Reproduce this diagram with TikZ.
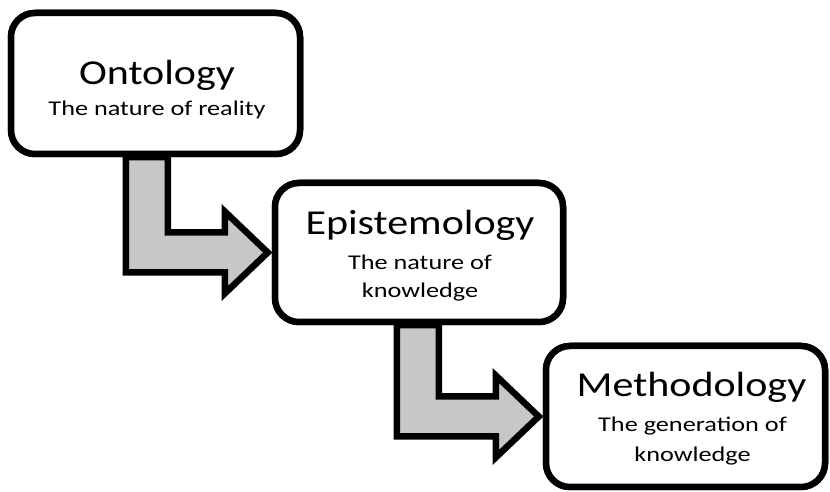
\documentclass[tikz,border=0pt]{standalone}
\usepackage{fontspec}
\setmainfont{Carlito}
\usetikzlibrary{calc}

\tikzset{
  stage/.style={draw=black, line width=6.5pt, rounded corners=24pt, fill=white,
    inner sep=0pt},
  stageline/.style={anchor=base, inner sep=0pt, text=black},
  bentarrow/.style={draw=black, line width=6.5pt, fill=black!22, line join=miter,
    miter limit=10},
}
% the lettering is set slightly wide
\newcommand{\titletext}[1]{\scalebox{1.2}[1]{\fontsize{35}{40}\selectfont #1}}
\newcommand{\subtext}[1]{\scalebox{1.25}[1]{\fontsize{21}{25}\selectfont #1}}

% L-shaped block arrow from the bottom of #1 to the left side of #2
\newcommand{\lbentarrow}[2]{%
  \draw[bentarrow] let \p1=(#1.south), \p2=($(#2.west)+(-4,0)$) in
    (\x2-142, \y1) -- (\x2-142, \y2-20) -- (\x2-43, \y2-20) -- (\x2-43, \y2-41)
    -- (\x2, \y2) -- (\x2-43, \y2+41) -- (\x2-43, \y2+20) -- (\x2-100, \y2+20)
    -- (\x2-100, \y1) -- cycle;}

\begin{document}
\begin{tikzpicture}[x=1pt, y=1pt]
  \useasboundingbox[fill=white] (0,0) rectangle (830,492);

  % the three stages
  \coordinate (c1) at (155.5,408.5);
  \coordinate (c2) at (419,239.5);
  \coordinate (c3) at (685.5,75.5);

  \node[stage, minimum width=289pt, minimum height=141pt] (onto) at (c1) {};
  \node[stage, minimum width=288pt, minimum height=139pt] (epis) at (c2) {};
  \node[stage, minimum width=279pt, minimum height=141pt] (meth) at (c3) {};

  % arrows between stages
  \lbentarrow{onto}{epis}
  \lbentarrow{epis}{meth}

  % boxes again on top, so the arrow shafts start at their borders
  \node[stage, minimum width=289pt, minimum height=141pt] at (c1) {};
  \node[stage, minimum width=288pt, minimum height=139pt] at (c2) {};
  \node[stage, minimum width=279pt, minimum height=141pt] at (c3) {};

  % lettering, placed by baseline
  \node[stageline] (onto-title) at ($(onto.center)+(1.5,-1.5)$) {\titletext{Ontology}};
  \node[stageline] (onto-sub)   at ($(onto.center)+(1.5,-32.5)$) {\subtext{The nature of reality}};

  \node[stageline] (epis-title) at ($(epis.center)+(1,17.5)$) {\titletext{Epistemology}};
  \node[stageline] (epis-sub1)  at ($(epis.center)+(1,-17.5)$) {\subtext{The nature of}};
  \node[stageline] (epis-sub2)  at ($(epis.center)+(1,-45.5)$) {\subtext{knowledge}};

  \node[stageline] (meth-title) at ($(meth.center)+(6,19.5)$) {\titletext{Methodology}};
  \node[stageline] (meth-sub1)  at ($(meth.center)+(7,-15.5)$) {\subtext{The generation of}};
  \node[stageline] (meth-sub2)  at ($(meth.center)+(7,-45.5)$) {\subtext{knowledge}};
\end{tikzpicture}
\end{document}
